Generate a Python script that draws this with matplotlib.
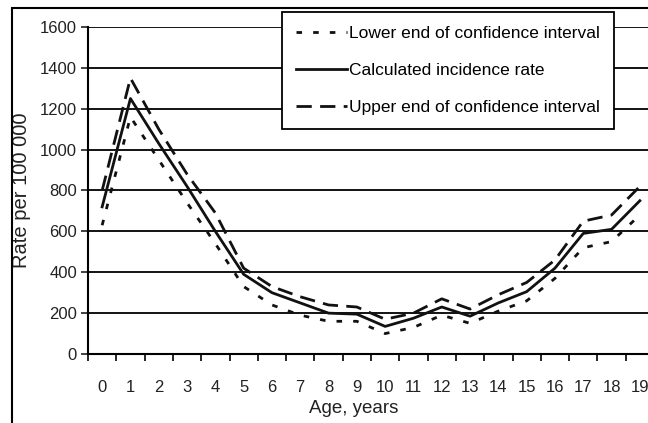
import matplotlib
matplotlib.use("Agg")
import matplotlib.pyplot as plt
import numpy as np
from matplotlib.patches import Rectangle

plt.rcParams['font.family'] = ['Liberation Sans', 'DejaVu Sans']

ages = list(range(20))
age_labels = [str(a) for a in ages]
calculated = [720, 1250, 1030, 820, 600, 390, 300, 250, 200, 195, 135, 175, 230, 185,
              250, 305, 420, 590, 610, 750]
upper = [800, 1350, 1100, 880, 690, 420, 330, 280, 240, 230, 170, 200, 270, 220,
         290, 350, 460, 650, 680, 820]
lower = [630, 1160, 950, 740, 540, 330, 240, 190, 160, 160, 100, 130, 190, 150,
         210, 260, 370, 520, 550, 680]

fig = plt.figure(figsize=(6.48, 4.23), dpi=100)
ax = fig.add_axes([88/648, 1-354/423, 566/648, 327/423])

col = '#111111'
ax.plot(ages, lower, color=col, lw=2, ls=(0, (2, 4)), label='Lower end of confidence interval')
ax.plot(ages, calculated, color=col, lw=2, ls='-', label='Calculated incidence rate')
ax.plot(ages, upper, color=col, lw=2, ls=(0, (5.5, 3)), label='Upper end of confidence interval')

ax.set_xlim(-0.5, 19.5)
ax.set_ylim(0, 1600)
ax.set_yticks(np.arange(0, 1601, 200))
ax.set_xticks(ages)
ax.set_xticklabels(age_labels)
ax.set_xticks(np.arange(-0.5, 19.6, 1), minor=True)
ax.tick_params(axis='x', which='major', length=0, pad=19, labelsize=12, colors='#222222')
ax.tick_params(axis='x', which='minor', length=5, width=1.2, direction='out')
ax.tick_params(axis='y', length=5, width=1.2, labelsize=12, colors='#222222', pad=3)
ax.yaxis.grid(True, color='black', lw=1.3)
ax.set_axisbelow(True)
for s in ['top', 'right']:
    ax.spines[s].set_visible(False)
for s in ['left', 'bottom']:
    ax.spines[s].set_linewidth(1.5)
    ax.spines[s].set_color('black')

ax.set_ylabel('Rate per 100 000', fontsize=14.5, color='#222222', va='center')
ax.yaxis.set_label_coords((22-88)/566, 0.5)
ax.set_xlabel('Age, years', fontsize=13.5, color='#222222', va='top')
ax.xaxis.set_label_coords((354-88)/566, (354-400)/327)

leg = ax.legend(loc='upper right', bbox_to_anchor=(614/648, 1-12/423),
                bbox_transform=fig.transFigure, fontsize=12.5, frameon=True,
                fancybox=False, framealpha=1, edgecolor='black', handlelength=2.9,
                labelspacing=1.25, handletextpad=0.15, borderpad=0.8, borderaxespad=0)
leg.get_frame().set_linewidth(1.3)

fig.patches.append(Rectangle((12/648, -0.1), 1.2, 1-8/423+0.1, transform=fig.transFigure,
                             fill=False, edgecolor='black', lw=1.5))

fig.savefig('out.png', dpi=100)
